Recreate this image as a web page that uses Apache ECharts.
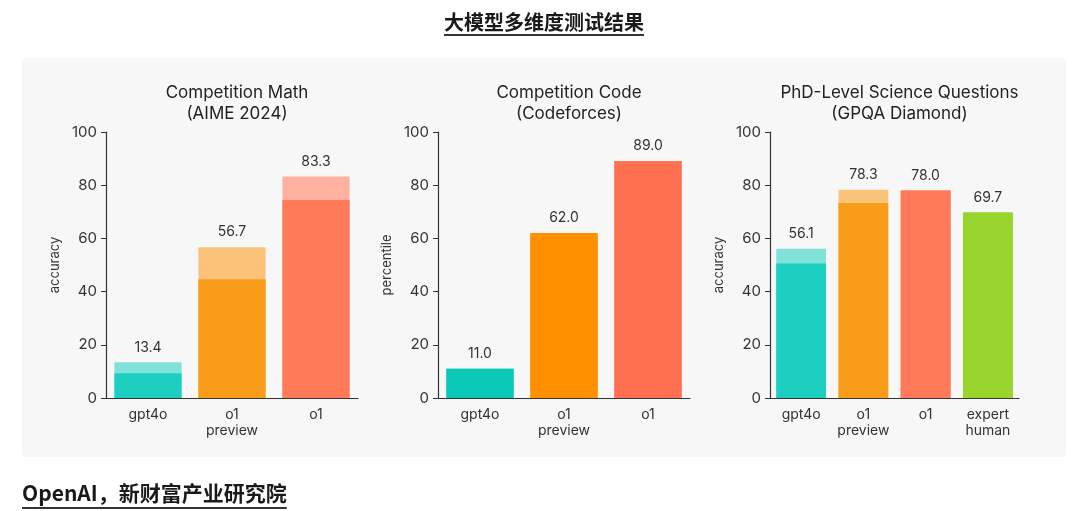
<!DOCTYPE html>
<html>
<head>
<meta charset="utf-8">
<script src="https://cdn.jsdelivr.net/npm/echarts@6/dist/echarts.min.js"></script>
<style>
html,body{margin:0;padding:0;background:#fff;}
#c{width:1080px;height:511px;}
</style>
</head>
<body>
<div id="c"></div>
<script>
// ---- data ----
const pageTitle = '大模型多维度测试结果';
const sourceText = 'OpenAI，新财富产业研究院';

const mathTitle = 'Competition Math\n(AIME 2024)';
const mathCats = ['gpt4o', 'o1\npreview', 'o1'];
const mathTop = [13.4, 56.7, 83.3];
const mathSolid = [9.3, 44.6, 74.4];

const codeTitle = 'Competition Code\n(Codeforces)';
const codeCats = ['gpt4o', 'o1\npreview', 'o1'];
const codeTop = [11.0, 62.0, 89.0];
const codeSolid = [11.0, 62.0, 89.0];

const sciTitle = 'PhD-Level Science Questions\n(GPQA Diamond)';
const sciCats = ['gpt4o', 'o1\npreview', 'o1', 'expert\nhuman'];
const sciTop = [56.1, 78.3, 78.0, 69.7];
const sciSolid = [50.6, 73.3, 78.0, 69.7];

const yNames = ['accuracy', 'percentile', 'accuracy'];
const yTicks = [0, 20, 40, 60, 80, 100];

// ---- styles ----
const FONT = 'Inter, "Noto Sans", sans-serif';
const mathSolidColors = ['#1ccfc0', '#f99c1a', '#ff7a59'];
const mathLightColors = ['#80e2d8', '#fbc27a', '#ffb09e'];
const codeColors = ['#0bc9b9', '#ff9000', '#ff7050'];
const sciSolidColors = ['#1ccfc0', '#f99c1a', '#ff7a59', '#98d62f'];
const sciLightColors = ['#80e2d8', '#fbc27a', '#ff7a59', '#98d62f'];

const grids = [
  {left: 106, top: 132, width: 252, height: 266},
  {left: 438, top: 132, width: 252, height: 266},
  {left: 770, top: 132, width: 249, height: 266}
];
const panels = [
  {title: mathTitle, cats: mathCats, top: mathTop, solid: mathSolid, light: mathLightColors, dark: mathSolidColors},
  {title: codeTitle, cats: codeCats, top: codeTop, solid: codeSolid, light: codeColors, dark: codeColors},
  {title: sciTitle, cats: sciCats, top: sciTop, solid: sciSolid, light: sciLightColors, dark: sciSolidColors}
];

const chart = echarts.init(document.getElementById('c'), null, {renderer: 'canvas'});

function textWidth(txt, font) {
  const cv = document.createElement('canvas').getContext('2d');
  cv.font = font;
  return cv.measureText(txt).width;
}

const titleFont = 'bold 20px "Noto Sans CJK SC"';
const srcFont = 'bold 21px "Noto Sans CJK SC"';
const tW = textWidth(pageTitle, titleFont);
const sW = textWidth(sourceText, srcFont);

const xAxes = [], yAxes = [], series = [], titles = [];
panels.forEach((p, i) => {
  const g = grids[i];
  titles.push({
    text: p.title,
    left: g.left + g.width / 2,
    top: 77,
    textAlign: 'center',
    textStyle: {fontFamily: FONT, fontSize: 17, fontWeight: 'normal', color: '#222', lineHeight: 21}
  });
  xAxes.push({
    type: 'category', gridIndex: i, data: p.cats,
    axisLine: {lineStyle: {color: '#333', width: 1.2}},
    axisTick: {alignWithLabel: true, length: 5, lineStyle: {color: '#333'}},
    axisLabel: {interval: 0, fontFamily: FONT, fontSize: 14, color: '#333', lineHeight: 16, margin: 9}
  });
  yAxes.push({
    type: 'value', gridIndex: i, min: 0, max: 100, interval: 20,
    name: yNames[i], nameLocation: 'middle', nameGap: 44,
    nameTextStyle: {fontFamily: FONT, fontSize: 13, color: '#333'},
    splitLine: {show: false},
    axisLine: {show: true, lineStyle: {color: '#333', width: 1.2}},
    axisTick: {show: true, length: 5, lineStyle: {color: '#333'}},
    axisLabel: {fontFamily: FONT, fontSize: 15, color: '#333', margin: 9,
      formatter: v => yTicks.includes(v) ? String(v) : ''}
  });
  series.push({
    type: 'bar', xAxisIndex: i, yAxisIndex: i, barWidth: '80%', barGap: '-100%',
    z: 2, silent: true,
    data: p.top.map((v, k) => ({value: v, itemStyle: {color: p.light[k]}})),
    label: {show: true, position: 'top', distance: 8, fontFamily: FONT, fontSize: 14, color: '#333',
      formatter: o => o.value.toFixed(1)}
  });
  series.push({
    type: 'bar', xAxisIndex: i, yAxisIndex: i, barWidth: '80%', barGap: '-100%',
    z: 3, silent: true,
    data: p.solid.map((v, k) => ({value: v, itemStyle: {color: p.dark[k]}}))
  });
});

chart.setOption({
  backgroundColor: '#ffffff',
  animation: false,
  title: titles,
  grid: grids,
  xAxis: xAxes,
  yAxis: yAxes,
  series: series,
  graphic: [
    {type: 'rect', z: -10, shape: {x: 22, y: 58, width: 1044, height: 399, r: 4}, style: {fill: '#f7f7f7'}},
    {type: 'text', left: 544 - tW / 2, top: 12, style: {text: pageTitle, font: titleFont, fill: '#1a1a1a'}},
    {type: 'rect', shape: {x: 544 - tW / 2, y: 34, width: tW, height: 2}, style: {fill: '#333'}},
    {type: 'text', left: 22, top: 483, style: {text: sourceText, font: srcFont, fill: '#1a1a1a'}},
    {type: 'rect', shape: {x: 22, y: 507, width: sW, height: 2}, style: {fill: '#333'}}
  ]
});
</script>
</body>
</html>
